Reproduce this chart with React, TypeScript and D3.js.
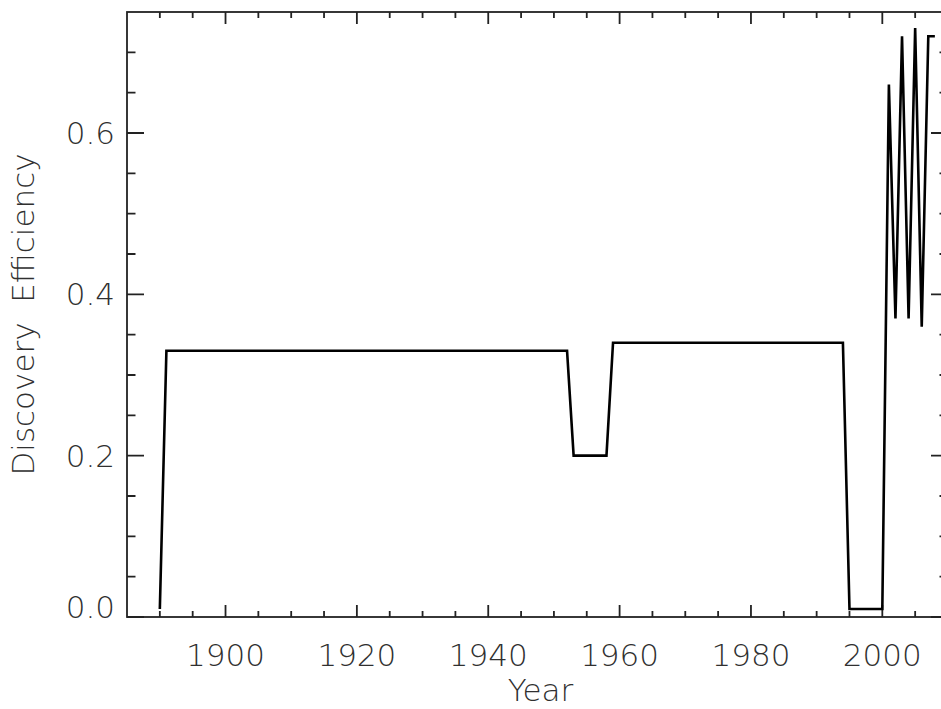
import * as d3 from "d3";
import React, { useEffect, useRef } from "react";

// discovery efficiency per year
const years = [1890, 1891, 1952, 1953, 1958, 1959, 1994, 1995, 2000, 2001, 2002, 2003, 2004, 2005, 2006, 2007, 2008];
const efficiency = [0.01, 0.33, 0.33, 0.2, 0.2, 0.34, 0.34, 0.01, 0.01, 0.66, 0.37, 0.72, 0.37, 0.73, 0.36, 0.72, 0.72];

const xMajorTicks = [1900, 1920, 1940, 1960, 1980, 2000];
const yMajorTicks = [0.0, 0.2, 0.4, 0.6];

const W = 941;
const H = 709;
const FONT = "'DejaVu Sans', sans-serif";
const TEXT_COLOR = "#303030";

const App: React.FC = () => {
    const svgRef = useRef<SVGSVGElement>(null);

    useEffect(() => {
        const svg = d3.select(svgRef.current);
        svg.selectAll("*").remove();

        // plot box; right edge sits just past the window, as in the original
        const left = 127,
            right = 948,
            top = 12,
            bottom = 617;

        const x = d3.scaleLinear().domain([1885, 2010]).range([left, right]);
        const y = d3.scaleLinear().domain([0, 0.75]).range([bottom, top]);

        const xMinor = d3.range(1890, 2010, 5).filter(v => xMajorTicks.indexOf(v) < 0);
        const yMinor = d3
            .range(1, 15)
            .map(i => i * 0.05)
            .filter(v => Math.abs(v * 5 - Math.round(v * 5)) > 1e-6);

        const axisColor = "#222";
        const xLen = 12,
            yLen = 17;

        // frame
        svg.append("rect")
            .attr("x", left)
            .attr("y", top)
            .attr("width", right - left)
            .attr("height", bottom - top)
            .attr("fill", "none")
            .attr("stroke", axisColor)
            .attr("stroke-width", 1.8);

        // ticks on all four sides, pointing inward
        const xTicks = [
            ...xMajorTicks.map(v => ({ v, len: xLen })),
            ...xMinor.map(v => ({ v, len: xLen / 2 })),
        ];
        const yTicks = [
            ...yMajorTicks.map(v => ({ v, len: yLen })),
            ...yMinor.map(v => ({ v, len: yLen / 2 })),
        ];
        let d = "";
        xTicks.forEach(t => {
            const px = x(t.v);
            d += `M${px},${bottom}V${bottom - t.len}`;
            d += `M${px},${top}V${top + t.len}`;
        });
        yTicks.forEach(t => {
            const py = y(t.v);
            d += `M${left},${py}H${left + t.len}`;
            d += `M${right},${py}H${right - t.len}`;
        });
        svg.append("path")
            .attr("d", d)
            .attr("fill", "none")
            .attr("stroke", axisColor)
            .attr("stroke-width", 1.8);

        // tick labels
        svg.append("g")
            .selectAll("text")
            .data(xMajorTicks)
            .enter()
            .append("text")
            .attr("x", v => x(v))
            .attr("y", bottom + 49)
            .attr("text-anchor", "middle")
            .attr("font-family", FONT)
            .attr("font-weight", 200)
            .attr("font-size", 31)
            .attr("fill", TEXT_COLOR)
            .text(v => d3.format("d")(v));

        svg.append("g")
            .selectAll("text")
            .data(yMajorTicks)
            .enter()
            .append("text")
            .attr("x", left - 12)
            .attr("y", v => y(v))
            .attr("dy", v => (v === 0 ? "0.02em" : "0.36em"))
            .attr("text-anchor", "end")
            .attr("font-family", FONT)
            .attr("font-weight", 200)
            .attr("font-size", 31)
            .attr("fill", TEXT_COLOR)
            .text(v => d3.format(".1f")(v));

        // the series
        const pts = years.map((yr, i) => [yr, efficiency[i]] as [number, number]);
        const myLine = d3
            .line<[number, number]>()
            .x(p => x(p[0]))
            .y(p => y(p[1]));

        svg.append("path")
            .datum(pts)
            .attr("fill", "none")
            .attr("stroke", "#000")
            .attr("stroke-width", 2.6)
            .attr("stroke-linejoin", "miter")
            .attr("d", myLine);

        // titles
        svg.append("text")
            .attr("x", (left + right) / 2 + 3)
            .attr("y", 701)
            .attr("text-anchor", "middle")
            .attr("font-family", FONT)
            .attr("font-weight", 200)
            .attr("font-size", 31)
            .attr("fill", TEXT_COLOR)
            .text("Year");

        svg.append("text")
            .attr("transform", `translate(34,${(top + bottom) / 2}) rotate(-90)`)
            .attr("text-anchor", "middle")
            .attr("font-family", FONT)
            .attr("font-weight", 200)
            .attr("font-size", 31)
            .attr("fill", TEXT_COLOR)
            .attr("xml:space", "preserve")
            .text("Discovery  Efficiency");
    }, []);

    return (
        <svg
            ref={svgRef}
            width={W}
            height={H}
            style={{ position: "absolute", left: 0, top: 0, background: "#fff" }}
        ></svg>
    );
};

export default App;
